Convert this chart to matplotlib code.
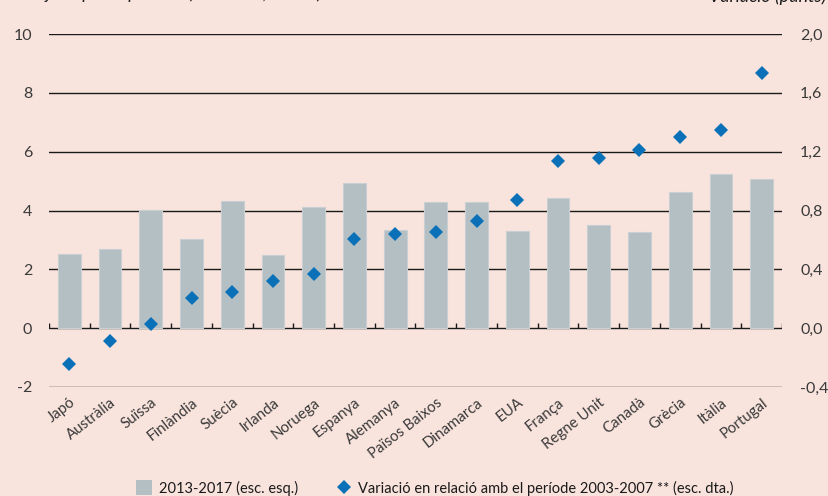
import matplotlib
matplotlib.use("Agg")
import matplotlib.pyplot as plt
from matplotlib.patches import Patch
from matplotlib.lines import Line2D
import numpy as np

plt.rcParams['font.family'] = ['Lato', 'DejaVu Sans']

countries = ["Japó", "Austràlia", "Suïssa", "Finlàndia", "Suècia", "Irlanda",
             "Noruega", "Espanya", "Alemanya", "Països Baixos", "Dinamarca",
             "EUA", "França", "Regne Unit", "Canadà", "Grècia", "Itàlia", "Portugal"]
level_2013_2017 = [2.52, 2.70, 4.02, 3.04, 4.31, 2.49, 4.12, 4.92, 3.33, 4.28,
                   4.29, 3.29, 4.42, 3.50, 3.27, 4.63, 5.23, 5.07]
change_vs_2003_2007 = [-0.245, -0.086, 0.027, 0.206, 0.245, 0.318, 0.365, 0.605,
                       0.640, 0.655, 0.728, 0.869, 1.138, 1.159, 1.209, 1.302,
                       1.349, 1.737]
left_ticks = [-2, 0, 2, 4, 6, 8, 10]
right_ticks = [-0.4, 0.0, 0.4, 0.8, 1.2, 1.6, 2.0]
right_tick_labels = ["-0,4", "0,0", "0,4", "0,8", "1,2", "1,6", "2,0"]
legend_labels = ["2013-2017 (esc. esq.)",
                 "Variació en relació amb el període 2003-2007 ** (esc. dta.)"]
left_title = "Mitjana per al període (% del PIB, nivells)"
right_title = "Variació (punts)"

BG = "#f9e4dd"
BAR = "#b4bfc3"
BAR_EDGE = "#c8d0d3"
BLUE = "#0a70b8"
TXT = "#3a3a3a"

W, H = 829, 496
fig = plt.figure(figsize=(W / 100, H / 100), dpi=100, facecolor=BG)
ax = fig.add_axes([49 / W, 1 - 387 / H, (782 - 49) / W, (387 - 34) / H])
ax.set_facecolor(BG)
ax2 = ax.twinx()

x = np.arange(len(countries))
ax.set_xlim(-0.5, len(countries) - 0.5)
ax.set_ylim(-2, 10)
ax2.set_ylim(-0.4, 2.0)

# gridlines
for v in left_ticks:
    ax.axhline(v, color="#1a1a1a", lw=1.0, zorder=1)
# tick marks on zero line at category boundaries
bounds = np.arange(len(countries) + 1) - 0.5
ax.vlines(bounds, 0, 0.17, color="#1a1a1a", lw=1.0, zorder=1)

ax.bar(x, level_2013_2017, width=0.56, color=BAR, edgecolor=BAR_EDGE,
       linewidth=0.8, zorder=2)
ax2.plot(x, change_vs_2003_2007, linestyle="none", marker="D", markersize=7.2,
         color=BLUE, markeredgewidth=0, zorder=3)

for a in (ax, ax2):
    for s in a.spines.values():
        s.set_visible(False)

ax.set_yticks(left_ticks)
ax.set_yticklabels([str(v) for v in left_ticks])
ax2.set_yticks(right_ticks)
ax2.set_yticklabels(right_tick_labels)
ax.tick_params(axis="y", length=0, pad=12, labelsize=11.5, labelcolor=TXT)
ax2.tick_params(axis="y", length=0, pad=13, labelsize=11.5, labelcolor=TXT)

ax.set_xticks(x)
ax.set_xticklabels(countries, rotation=38, ha="right", va="top",
                   rotation_mode="anchor")
ax.tick_params(axis="x", length=0, pad=6, labelsize=10.8, labelcolor=TXT)

# titles: partly above the top edge, as in the reference
fig.text(20 / W, 1 + 1 / H, left_title, ha="left", va="baseline",
         fontsize=13, style="italic", color="#1a1a1a")
fig.text(826 / W, 1 - 2 / H, right_title, ha="right", va="baseline",
         fontsize=13, style="italic", color="#1a1a1a")

handles = [Patch(facecolor=BAR, edgecolor="none"),
           Line2D([], [], linestyle="none", marker="D", markersize=7.5,
                  color=BLUE, markeredgewidth=0)]
fig.legend(handles, legend_labels, loc="center",
           bbox_to_anchor=(435 / W, 1 - 488 / H), ncol=2, frameon=False,
           fontsize=10.5, columnspacing=2.6, handlelength=1.1, handleheight=1.2,
           handletextpad=0.45, labelcolor="#1a1a1a", borderpad=0)

fig.savefig("out.png", dpi=100, facecolor=BG)
